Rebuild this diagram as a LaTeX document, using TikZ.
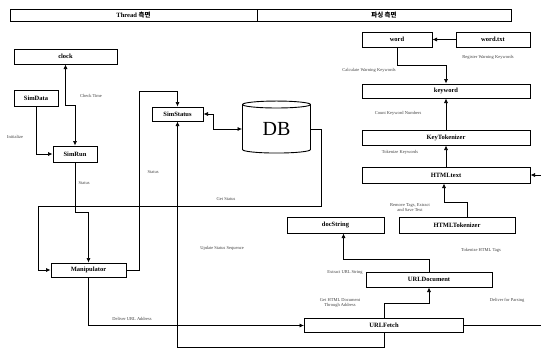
\documentclass[tikz,border=0pt]{standalone}
\usepackage{fontspec}
\setmainfont{Liberation Serif}
\newfontfamily\krfont{Noto Sans CJK KR}
\usetikzlibrary{arrows.meta,shapes.geometric}
\tikzset{
  box/.style={draw, line width=1pt, inner sep=0pt, font=\fontsize{6.5}{7}\selectfont\bfseries},
  con/.style={line width=0.7pt, -{Latex[length=4.5pt,width=4pt]}},
  dcon/.style={line width=0.7pt, {Latex[length=4.5pt,width=4pt]}-{Latex[length=4.5pt,width=4pt]}},
  lbl/.style={font=\fontsize{4.5}{5}\selectfont, text=black!75, inner sep=0pt, align=center}
}

\begin{document}
\begin{tikzpicture}[x=1pt,y=-1pt]
\useasboundingbox (0,0) rectangle (541,349);
\clip (0,0) rectangle (541,349);

% header
\node[box, minimum width=247pt, minimum height=12pt] (thread) at (133.5,15) {Thread {\krfont 측면}};
\node[box, minimum width=254pt, minimum height=12pt] (parse) at (384,15) {{\krfont 파싱 측면}};

% thread side
\node[box, minimum width=103pt, minimum height=15pt] (clock) at (65.5,56.5) {clock};
\node[box, minimum width=44pt, minimum height=16pt] (simdata) at (36,98) {SimData};
\node[box, minimum width=44pt, minimum height=16pt] (simrun) at (75,154) {SimRun};
\node[box, minimum width=51pt, minimum height=14pt] (simstatus) at (177.5,114) {SimStatus};
\node[draw, line width=0.9pt, cylinder, shape border rotate=90, aspect=0.25,
      minimum width=68pt, minimum height=52pt, inner sep=0pt,
      font=\fontsize{20}{20}\selectfont] (db) at (276.5,129) {DB};
\node[box, minimum width=75pt, minimum height=14pt] (manip) at (88.5,270) {Manipulator};

% parsing side
\node[box, minimum width=70pt, minimum height=15pt] (word) at (397,39.5) {word};
\node[box, minimum width=74pt, minimum height=15pt] (wordtxt) at (493,39.5) {word.txt};
\node[box, minimum width=168pt, minimum height=14pt] (keyword) at (446,91) {keyword};
\node[box, minimum width=168pt, minimum height=15pt] (keytok) at (446,137.5) {KeyTokenizer};
\node[box, minimum width=168pt, minimum height=16pt] (htmltext) at (446,175) {HTMLtext};
\node[box, minimum width=97pt, minimum height=16pt] (docstring) at (335.5,225) {docString};
\node[box, minimum width=116pt, minimum height=16pt] (htmltok) at (457,225) {HTMLTokenizer};
\node[box, minimum width=126pt, minimum height=15pt] (urldoc) at (429,279.5) {URLDocument};
\node[box, minimum width=159pt, minimum height=14pt] (urlfetch) at (384,325.5) {URLFetch};

% turning points
\coordinate (dbturn) at (321,206);
\coordinate (lturn) at (38,206);
\coordinate (mtop) at (139,91);
\coordinate (redge) at (560,250);

% connectors
\draw[dcon] (clock.south) -- ++(0,41) -| (simrun.north);
\draw[con] (simdata.south) |- (simrun.west);
\draw[con] (simrun.south) -- ++(0,50) -| (manip.north);
\draw[con] (db.east) -| (dbturn) -- (lturn) |- (manip.west);
\draw[con] (manip.east) -| (mtop) -| (simstatus.north);
\draw[dcon] (simstatus.east) -- ++(10,0) |- (db.west);
\draw[con] (manip.south) |- (urlfetch.west);
\draw[con] (urlfetch.south) -- ++(0,14) -| (simstatus.south);
\draw[con] (urlfetch.north) -- ++(0,-15) -| (urldoc.south);
\draw[con] (urldoc.north) -- ++(0,-12) -| ([xshift=8pt]docstring.south);
\draw[con] ([xshift=10pt]htmltok.north) -- ++(0,-14) -| ([xshift=-2pt]htmltext.south);
\draw[con] (htmltext.north) -- (keytok.south);
\draw[con] (keytok.north) -- (keyword.south);
\draw[con] (wordtxt.west) -- (word.east);
\draw[con] (word.south) -- ++(0,18) -| (keyword.north);
\draw[con] (urlfetch.east) -| (redge) |- (htmltext.east);

% labels
\node[lbl] at (91,96) {Check Time};
\node[lbl] at (15,137) {Initialize};
\node[lbl] at (84,183) {Status};
\node[lbl] at (153,172) {Status};
\node[lbl] at (226,199) {Get Status};
\node[lbl] at (222,248) {Update Status Sequence};
\node[lbl] at (132,319) {Deliver URL Address};
\node[lbl] at (340,303) {Get HTML Document\\Through Address};
\node[lbl] at (345,272) {Extract URL String};
\node[lbl] at (481,250) {Tokenize HTML Tags};
\node[lbl] at (410,208) {Remove Tags, Extract\\and Save Text};
\node[lbl] at (507,300) {Deliver for Parsing};
\node[lbl] at (400,152) {Tokenize Keywords};
\node[lbl] at (398,113) {Count Keyword Numbers};
\node[lbl] at (369,70) {Calculate Warning Keywords};
\node[lbl] at (488,57) {Register Warning Keywords};
\end{tikzpicture}
\end{document}
